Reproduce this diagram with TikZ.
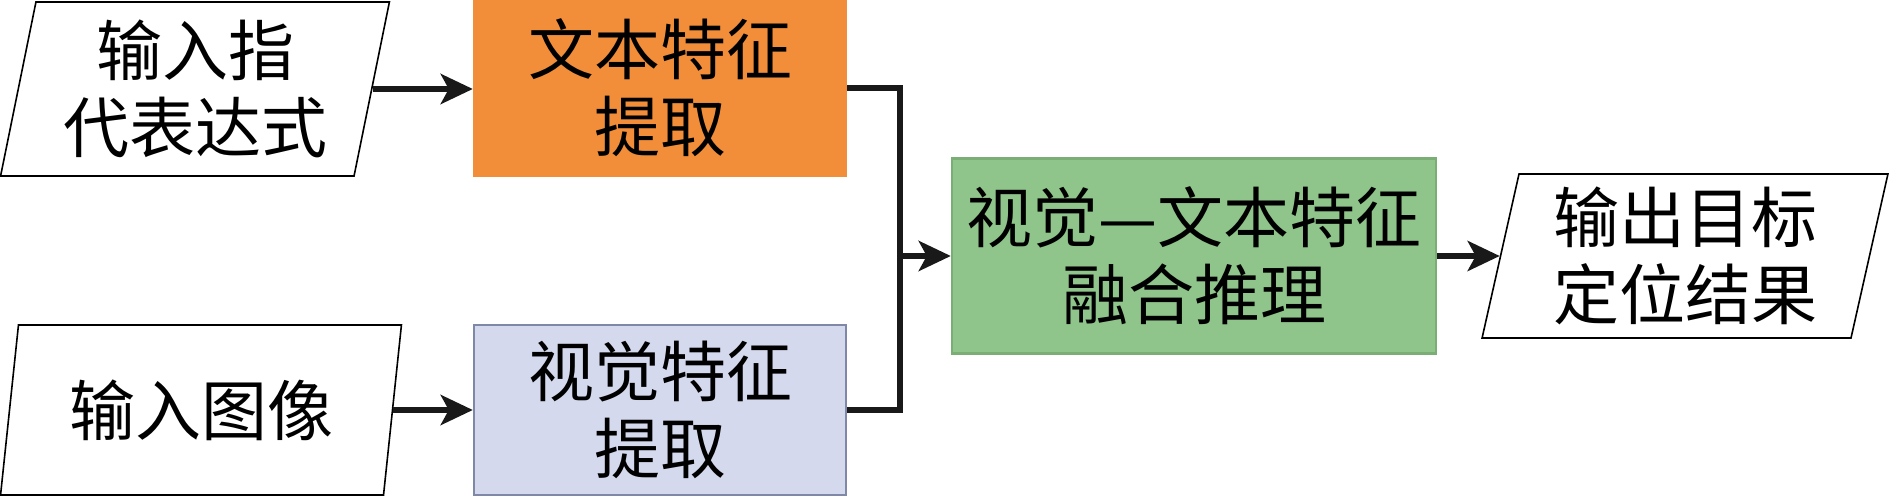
\documentclass[tikz,border=0pt]{standalone}
\usepackage{fontspec}
\setmainfont{Noto Sans CJK SC}
\usetikzlibrary{shapes.geometric,arrows.meta}
\definecolor{orx}{HTML}{F28E3A}
\definecolor{blx}{HTML}{D4D9ED}
\definecolor{bld}{HTML}{8088A8}
\definecolor{grx}{HTML}{8FC48A}
\definecolor{grd}{HTML}{7AAE75}
\colorlet{lnx}{black!90}
\tikzset{
    para/.style={trapezium,trapezium left angle=78,trapezium right angle=102,
        trapezium stretches=true,draw=black,line width=0.8pt,fill=white,
        inner sep=0pt,align=center,font=\fontsize{33}{38.5}\selectfont},
    featbox/.style={rectangle,line width=1.2pt,inner sep=0pt,align=center,
        minimum width=186pt,font=\fontsize{33}{38.5}\selectfont},
    link/.style={lnx,line width=2.9pt},
    flow/.style={link,-{Stealth[length=16pt,width=15pt,inset=4pt]}}
}
\begin{document}
\begin{tikzpicture}[x=0.5pt,y=-0.5pt]
    \useasboundingbox (0,0) rectangle (1890,496);
    \node [para,minimum width=194.5pt,minimum height=87pt] (expr) at (195,89) {输入指\\代表达式};
    \node [para,minimum width=200.5pt,minimum height=85pt] (image) at (201,410) {输入图像};
    \node [featbox,draw=orx,fill=orx,minimum height=88pt] (txtfeat) at (660,88) {文本特征\\提取};
    \node [featbox,draw=bld,fill=blx,minimum height=85pt] (visfeat) at (660,410) {视觉特征\\提取};
    \node [featbox,draw=grd,fill=grx,minimum width=242pt,minimum height=97.5pt] (fuse) at (1194,256) {视觉—文本特征\\融合推理};
    \node [para,minimum width=203pt,minimum height=82pt] (result) at (1685,256) {输出目标\\定位结果};
    \coordinate (join) at (900,256);
    \draw [flow] (expr.east) -- (expr.east -| txtfeat.west);
    \draw [flow] (image.east) -- (image.east -| visfeat.west);
    \draw [link] (txtfeat.east) -| (join);
    \draw [link] (visfeat.east) -| (join);
    \draw [flow] (join) -- (fuse.west);
    \draw [flow] (fuse.east) -- (result.west);
\end{tikzpicture}
\end{document}
